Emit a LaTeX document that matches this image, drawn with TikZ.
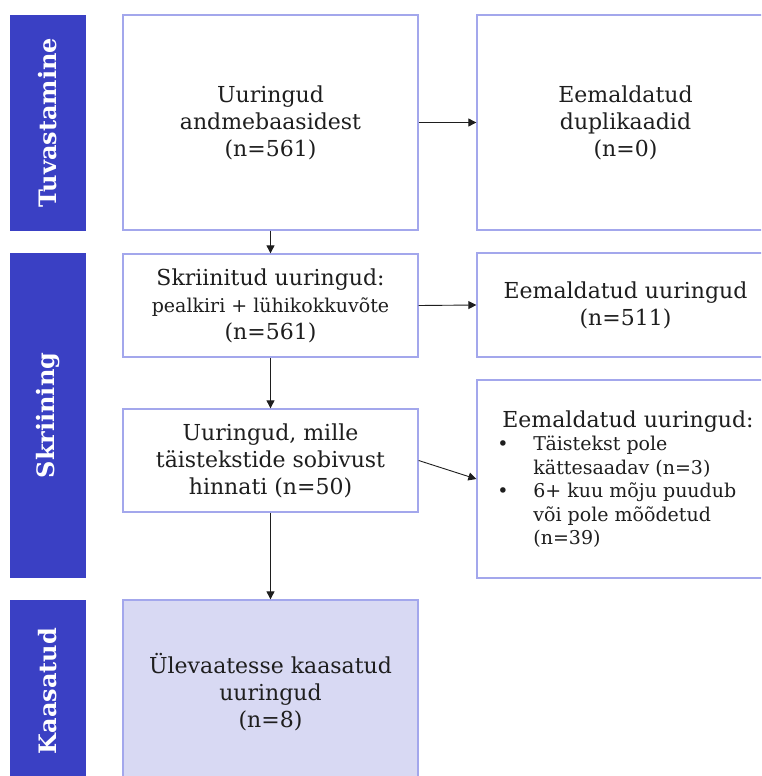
\documentclass[tikz,border=0pt]{standalone}
\usepackage{fontspec}
\setmainfont{DejaVu Serif}
\usetikzlibrary{arrows.meta}
\definecolor{barblue}{HTML}{3A40C4}
\definecolor{boxline}{HTML}{A3A7EC}
\definecolor{boxfill}{HTML}{D8D9F3}
\definecolor{txt}{HTML}{1E1E1E}
\begin{document}
\begin{tikzpicture}[x=1pt,y=-1pt,
		box/.style={draw=boxline, line width=1.3pt, fill=white, text=txt, align=center, minimum width=295pt, inner sep=0pt, font=\fontsize{22}{27}\selectfont},
		bar/.style={fill=barblue, text=white, rotate=90, minimum height=76pt, inner sep=0pt, font=\bfseries\fontsize{24}{28}\selectfont},
		arr/.style={-{Triangle[length=8pt,width=8pt]}, line width=0.9pt, draw=txt}]
		%% Fix the page to the size of the reference and cut off what sticks out
		\useasboundingbox (0,0) rectangle (761,776);
		\clip (0,0) rectangle (761,776);
		%% Phases on the left
		\node (tuv) [bar, minimum width=216pt] at (48,123) {Tuvastamine};
		\node (skr) [bar, minimum width=325pt] at (48,415.5) {Skriining};
		\node (kaa) [bar, minimum width=182pt] at (48,691) {Kaasatud};
		%% Main column
		\node (uur) [box, minimum height=215pt] at (270.5,122.5) {Uuringud\\andmebaasidest\\(n=561)};
		\node (skrn) [box, minimum height=103pt] at (270.5,305.5) {Skriinitud uuringud:\\{\fontsize{19}{27}\selectfont pealkiri + lühikokkuvõte}\\(n=561)};
		\node (hinn) [box, minimum height=103pt] at (270.5,460.5) {Uuringud, mille\\täistekstide sobivust\\hinnati (n=50)};
		\node (kaas) [box, fill=boxfill, minimum height=184pt] at (270.5,692) {Ülevaatesse kaasatud\\uuringud\\(n=8)};
		%% Removed studies on the right
		\node (dup) [box, minimum width=297pt, minimum height=215pt] at (625.5,122.5) {Eemaldatud\\duplikaadid\\(n=0)};
		\node (eem) [box, minimum width=297pt, minimum height=104pt] at (625.5,305) {Eemaldatud uuringud\\(n=511)};
		\node (eemt) [box, minimum width=297pt, minimum height=198pt, align=left, font=\fontsize{19}{23.5}\selectfont] at (625.5,479)
		{\hspace*{5pt}{\fontsize{22}{23.5}\selectfont Eemaldatud uuringud:}\\
			\makebox[36pt][l]{\textbullet}Täistekst pole\\
			\hspace*{36pt}kättesaadav (n=3)\\
			\makebox[36pt][l]{\textbullet}6+ kuu mõju puudub\\
			\hspace*{36pt}või pole mõõdetud\\
			\hspace*{36pt}(n=39)};
		%% Connectors
		\draw[arr] (uur) -- (skrn);
		\draw[arr] (skrn) -- (hinn);
		\draw[arr] (hinn) -- (kaas);
		\draw[arr] (uur.east) -- (dup.west);
		\draw[arr] (skrn.east) -- (eem.west);
		\draw[arr] (hinn.east) -- (eemt.west);
	\end{tikzpicture}
\end{document}
